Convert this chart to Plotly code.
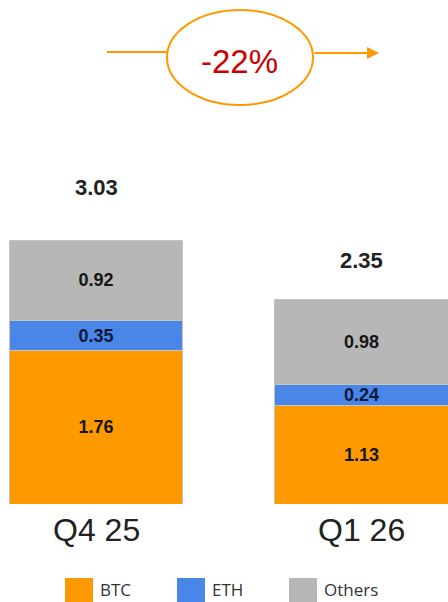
import plotly.graph_objects as go

categories = ["Q4 25", "Q1 26"]
btc = [1.76, 1.13]
eth = [0.35, 0.24]
others = [0.92, 0.98]
totals = [3.03, 2.35]
change_label = "-22%"
series_names = ["BTC", "ETH", "Others"]
colors = ["#FF9900", "#4A86E8", "#B7B7B7"]

W, H = 448, 602
PLOT_B = 504  # pixel y of the baseline

def px(x):
    return x / W

def py(y):
    return (PLOT_B - y) / PLOT_B

xs = list(range(len(categories)))
fig = go.Figure()
for name, vals, col in zip(series_names, [btc, eth, others], colors):
    fig.add_trace(go.Bar(
        x=xs, y=vals, name=name, width=0.655,
        marker=dict(color=col, line=dict(color="#c4c4c4", width=1)),
        text=[f"{v:.2f}" for v in vals], textposition="inside",
        insidetextanchor="middle", textangle=0,
        textfont=dict(family="Liberation Sans, Arial", size=18,
                      color="#0d1a3a" if name == "ETH" else "#151515", weight="bold"),
        showlegend=False, hoverinfo="skip",
    ))

tot_shift = [38, 25]
for i, t in enumerate(totals):
    fig.add_annotation(x=xs[i], y=t, text=f"<b>{t:.2f}</b>", showarrow=False,
                       yanchor="bottom", yshift=tot_shift[i],
                       font=dict(family="Liberation Sans, Arial", size=22, color="#222"))

# category labels
for i, c in enumerate(categories):
    fig.add_annotation(x=xs[i], y=0, text=c, showarrow=False, yanchor="top", yshift=-6,
                       font=dict(family="Liberation Sans, Arial", size=32, color="#222"))

# arrow + ellipse
orange = "#FF9900"
fig.add_shape(type="line", xref="paper", yref="paper", x0=px(107), x1=px(167),
              y0=py(52), y1=py(52), line=dict(color=orange, width=2))
fig.add_shape(type="circle", xref="paper", yref="paper", x0=px(167), x1=px(313),
              y0=py(105), y1=py(10), line=dict(color=orange, width=2), fillcolor="white")
fig.add_annotation(xref="paper", yref="paper", x=px(379), y=py(53), ax=-66, ay=0,
                   text="", showarrow=True, arrowhead=2, arrowsize=1.2, arrowwidth=2,
                   arrowcolor=orange)
fig.add_annotation(xref="paper", yref="paper", x=px(239), y=py(61), text=change_label,
                   showarrow=False, xanchor="center", yanchor="middle",
                   font=dict(family="Liberation Sans, Arial", size=33, color="#CC0000"))

# legend (manual)
leg_x = [65, 177, 289]
for lx, name, col in zip(leg_x, series_names, colors):
    fig.add_shape(type="rect", xref="paper", yref="paper", x0=px(lx), x1=px(lx + 28),
                  y0=py(603), y1=py(578), line=dict(width=0), fillcolor=col)
    fig.add_annotation(xref="paper", yref="paper", x=px(lx + 33), y=py(589), text=name,
                       showarrow=False, xanchor="left", yanchor="middle",
                       font=dict(family="Open Sans, Lato", size=17, color="#333"))

scale = 87.0
fig.update_layout(
    width=W, height=H, barmode="stack",
    margin=dict(l=0, r=0, t=0, b=H - PLOT_B),
    paper_bgcolor="white", plot_bgcolor="white",
    xaxis=dict(range=[-0.3616, 1.3258], visible=False),
    yaxis=dict(range=[0, PLOT_B / scale], visible=False),
    uniformtext=dict(minsize=14, mode="show"),
)
fig.write_html("out.html")
